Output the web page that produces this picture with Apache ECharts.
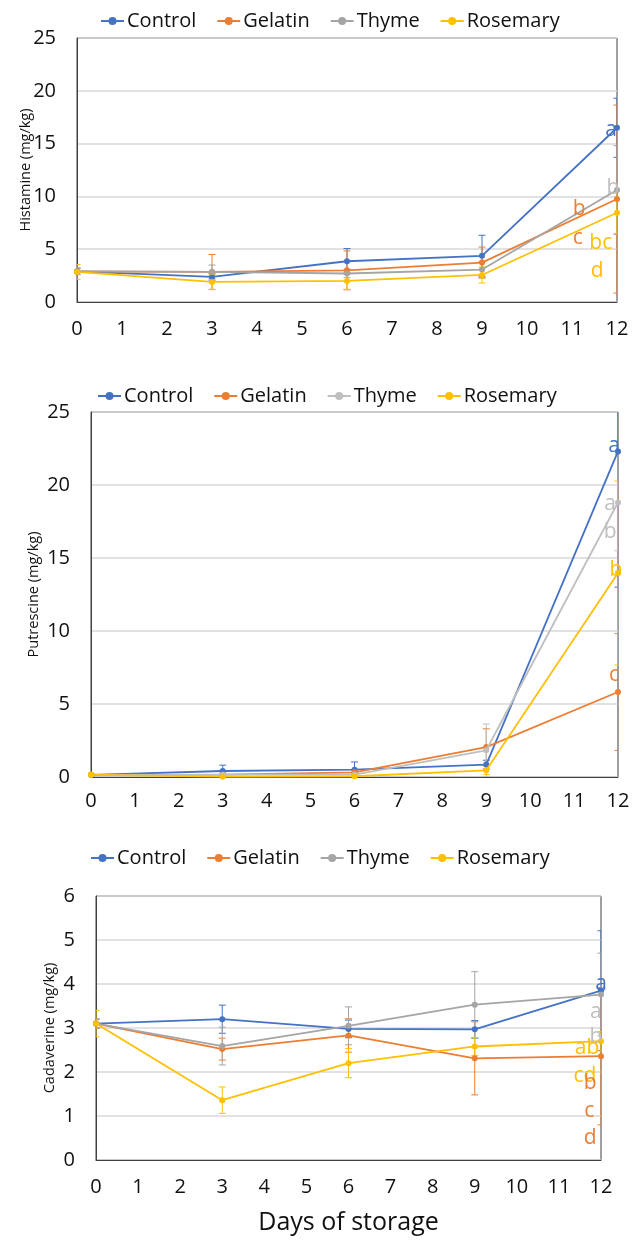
<!DOCTYPE html>
<html>
<head>
<meta charset="utf-8">
<script src="https://cdn.jsdelivr.net/npm/echarts@6/dist/echarts.min.js"></script>
<style>
html,body{margin:0;padding:0;background:#fff;}
#c{width:641px;height:1240px;}
</style>
</head>
<body>
<div id="c"></div>
<script>
// ---- data ----
const days = [0, 3, 6, 9, 12];
const seriesNames = ['Control', 'Gelatin', 'Thyme', 'Rosemary'];
const xTicks = [0,1,2,3,4,5,6,7,8,9,10,11,12];

// Histamine (mg/kg)
const histControl  = [2.9, 2.37, 3.86, 4.37, 16.5];
const histGelatin  = [2.9, 2.85, 3.0, 3.73, 9.75];
const histThyme    = [2.9, 2.85, 2.7, 3.07, 10.6];
const histRosemary = [2.85, 1.9, 2.0, 2.56, 8.45];
const histControlErr  = [0.3, 0.3, 1.2, 1.95, 2.8];
const histGelatinErr  = [0.3, 1.65, 1.84, 1.47, 8.9];
const histThymeErr    = [0.3, 0.65, 0.4, 0.77, 4.2];
const histRosemaryErr = [0.7, 0.73, 0.8, 0.76, 1.95];
const histLetterText   = ['a', 'b', 'b', 'c', 'bc', 'd'];
const histLetterSeries = [0, 2, 1, 1, 3, 3];
const histLetterDay    = [11.87, 11.91, 11.16, 11.13, 11.64, 11.56];
const histLetterValue  = [16.3, 10.8, 8.8, 6.05, 5.56, 2.9];

// Putrescine (mg/kg)
const putControl  = [0.15, 0.41, 0.5, 0.85, 22.3];
const putGelatin  = [0.15, 0.16, 0.32, 2.05, 5.82];
const putThyme    = [0.15, 0.16, 0.16, 1.83, 18.8];
const putRosemary = [0.15, 0.02, 0.05, 0.46, 13.97];
const putControlErr  = [0.05, 0.4, 0.53, 0.3, 9.3];
const putGelatinErr  = [0.05, 0.1, 0.15, 1.25, 4.0];
const putThymeErr    = [0.05, 0.1, 0.1, 1.8, 3.3];
const putRosemaryErr = [0.05, 0.05, 0.05, 0.3, 6.3];
const putLetterText   = ['a', 'a', 'b', 'b', 'c'];
const putLetterSeries = [0, 2, 2, 3, 1];
const putLetterDay    = [11.91, 11.82, 11.82, 11.95, 11.91];
const putLetterValue  = [22.65, 18.7, 16.76, 14.2, 6.97];

// Cadaverine (mg/kg)
const cadControl  = [3.1, 3.2, 2.98, 2.97, 3.85];
const cadGelatin  = [3.1, 2.52, 2.83, 2.31, 2.36];
const cadThyme    = [3.1, 2.59, 3.05, 3.53, 3.76];
const cadRosemary = [3.1, 1.36, 2.2, 2.58, 2.7];
const cadControlErr  = [0.1, 0.32, 0.2, 0.2, 1.36];
const cadGelatinErr  = [0.1, 0.25, 0.38, 0.83, 1.56];
const cadThymeErr    = [0.1, 0.43, 0.43, 0.75, 0.94];
const cadRosemaryErr = [0.3, 0.3, 0.33, 0.2, 0.22];
const cadLetterText   = ['a', 'a', 'b', 'ab', 'cd', 'b', 'c', 'd'];
const cadLetterSeries = [0, 2, 2, 3, 3, 1, 1, 1];
const cadLetterDay    = [12.0, 11.88, 11.88, 11.67, 11.62, 11.74, 11.72, 11.74];
const cadLetterValue  = [4.0, 3.36, 2.8, 2.55, 1.91, 1.75, 1.11, 0.5];

const yTicksHist = [0, 5, 10, 15, 20, 25];
const yTicksPut  = [0, 5, 10, 15, 20, 25];
const yTicksCad  = [0, 1, 2, 3, 4, 5, 6];

// ---- styles ----
const FONT = 'Open Sans';
const baseColors = ['#4472C4', '#ED7D31', '#A5A5A5', '#FFC000'];
const letterColors = ['#4472C4', '#ED7D31', '#BFBFBF', '#FFC000'];

const panels = [
  { vals: [histControl, histGelatin, histThyme, histRosemary],
    errs: [histControlErr, histGelatinErr, histThymeErr, histRosemaryErr],
    lt: histLetterText, ls: histLetterSeries, ld: histLetterDay, lv: histLetterValue,
    yTicks: yTicksHist, name: 'Histamine (mg/kg)', thyme: '#A5A5A5',
    grid: {left: 77, top: 38, width: 540, height: 264}, nameGap: 44, xMargin: 17,
    legend: {left: 100, top: 11} },
  { vals: [putControl, putGelatin, putThyme, putRosemary],
    errs: [putControlErr, putGelatinErr, putThymeErr, putRosemaryErr],
    lt: putLetterText, ls: putLetterSeries, ld: putLetterDay, lv: putLetterValue,
    yTicks: yTicksPut, name: 'Putrescine (mg/kg)', thyme: '#BFBFBF',
    grid: {left: 91, top: 412, width: 527, height: 365}, nameGap: 50, xMargin: 14,
    legend: {left: 97, top: 386} },
  { vals: [cadControl, cadGelatin, cadThyme, cadRosemary],
    errs: [cadControlErr, cadGelatinErr, cadThymeErr, cadRosemaryErr],
    lt: cadLetterText, ls: cadLetterSeries, ld: cadLetterDay, lv: cadLetterValue,
    yTicks: yTicksCad, name: 'Cadaverine (mg/kg)', thyme: '#A5A5A5',
    grid: {left: 96, top: 896, width: 505, height: 264}, nameGap: 39, xMargin: 17,
    legend: {left: 90, top: 848} }
];

const grids = [], xAxes = [], yAxes = [], legends = [], series = [];

panels.forEach((p, pi) => {
  const colors = baseColors.slice();
  colors[2] = p.thyme;
  grids.push(Object.assign({show: true, borderColor: '#404040', borderWidth: 1, backgroundColor: '#fff'}, p.grid));
  const xa = {
    type: 'value', gridIndex: pi, min: xTicks[0], max: xTicks[xTicks.length - 1], interval: 1,
    axisLine: {show: true, lineStyle: {color: '#404040', width: 1}},
    axisTick: {show: false}, splitLine: {show: false},
    axisLabel: {fontFamily: FONT, fontSize: 20, color: '#111', margin: p.xMargin}
  };
  if (pi === 2) {
    xa.name = 'Days of storage';
    xa.nameLocation = 'middle';
    xa.nameGap = 50;
    xa.nameMoveOverlap = false;
    xa.nameTextStyle = {fontFamily: FONT, fontSize: 25, color: '#111'};
  }
  xAxes.push(xa);
  const yStep = p.yTicks[1] - p.yTicks[0];
  yAxes.push({
    type: 'value', gridIndex: pi, min: p.yTicks[0], max: p.yTicks[p.yTicks.length - 1], interval: yStep,
    name: p.name, nameLocation: 'middle', nameRotate: 90, nameGap: p.nameGap,
    nameMoveOverlap: false,
    nameTextStyle: {fontFamily: FONT, fontSize: 14.5, color: '#111'},
    axisLine: {show: true, lineStyle: {color: '#404040', width: 1}},
    axisTick: {show: false},
    splitLine: {show: true, lineStyle: {color: '#D9D9D9', width: 1.5}},
    axisLabel: {fontFamily: FONT, fontSize: 20, color: '#111', margin: 21}
  });
  legends.push({
    left: p.legend.left, top: p.legend.top, orient: 'horizontal', padding: 0,
    itemWidth: 23, itemHeight: 10, itemGap: 20, selectedMode: false,
    textStyle: {fontFamily: FONT, fontSize: 20, color: '#111', padding: [0, 0, 0, -2]},
    data: seriesNames.map((n, si) => ({
      name: n,
      itemStyle: {color: colors[si]},
      lineStyle: {color: colors[si], width: 2}
    }))
  });

  // error bars
  seriesNames.forEach((n, si) => {
    const v = p.vals[si], e = p.errs[si];
    series.push({
      type: 'custom', name: n + ' err', xAxisIndex: pi, yAxisIndex: pi,
      coordinateSystem: 'cartesian2d', clip: true, silent: true, z: 2 + si,
      data: days.map((d, i) => [d, v[i] - e[i], v[i] + e[i]]),
      renderItem: (params, api) => {
        const lo = api.coord([api.value(0), api.value(1)]);
        const hi = api.coord([api.value(0), api.value(2)]);
        const cw = 3.5;
        const st = {stroke: colors[si], lineWidth: 1};
        return {type: 'group', children: [
          {type: 'line', shape: {x1: lo[0], y1: lo[1], x2: hi[0], y2: hi[1]}, style: st},
          {type: 'line', shape: {x1: lo[0] - cw, y1: lo[1], x2: lo[0] + cw, y2: lo[1]}, style: st},
          {type: 'line', shape: {x1: hi[0] - cw, y1: hi[1], x2: hi[0] + cw, y2: hi[1]}, style: st}
        ]};
      }
    });
  });
  // lines
  seriesNames.forEach((n, si) => {
    series.push({
      type: 'line', name: n, xAxisIndex: pi, yAxisIndex: pi, clip: false,
      data: days.map((d, i) => [d, p.vals[si][i]]),
      symbol: 'circle', symbolSize: 6, z: 10 + si,
      itemStyle: {color: colors[si]},
      lineStyle: {color: colors[si], width: 1.8}
    });
  });
  // letters
  series.push({
    type: 'custom', name: 'letters' + pi, xAxisIndex: pi, yAxisIndex: pi,
    coordinateSystem: 'cartesian2d', clip: false, silent: true, z: 20,
    data: p.ld.map((d, i) => [d, p.lv[i]]),
    renderItem: (params, api) => {
      const pt = api.coord([api.value(0), api.value(1)]);
      const k = params.dataIndex;
      return {type: 'text', x: pt[0], y: pt[1], style: {
        text: p.lt[k], fill: letterColors[p.ls[k]], font: '21px "' + FONT + '"',
        align: 'center', verticalAlign: 'middle'
      }};
    }
  });
});

const chart = echarts.init(document.getElementById('c'), null, {renderer: 'canvas'});
chart.setOption({
  animation: false,
  backgroundColor: '#fff',
  grid: grids, xAxis: xAxes, yAxis: yAxes, legend: legends, series: series
});
</script>
</body>
</html>
